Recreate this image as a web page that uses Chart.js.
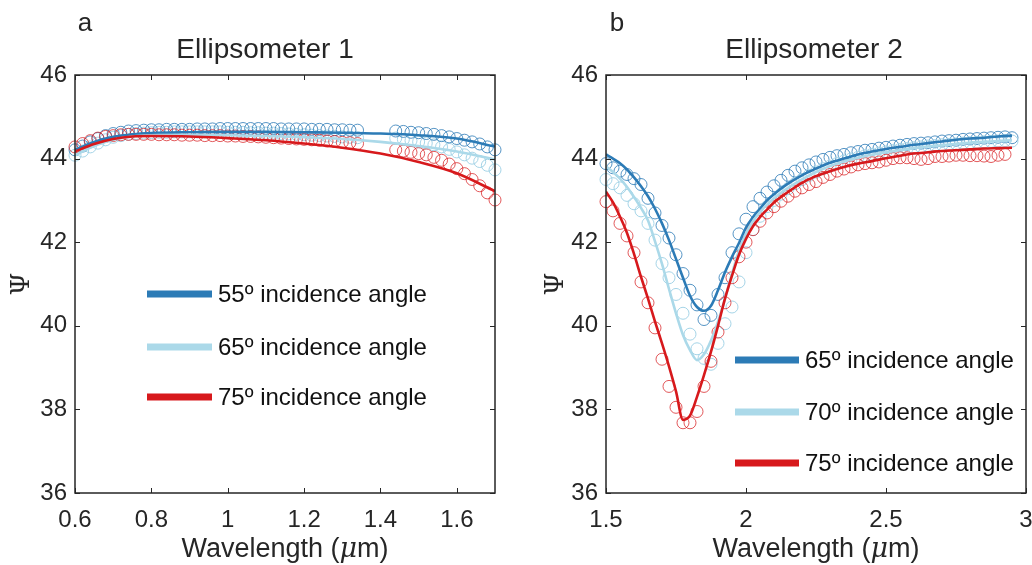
<!DOCTYPE html>
<html><head><meta charset="utf-8">
<script src="https://cdn.jsdelivr.net/npm/chart.js@4.4.1/dist/chart.umd.min.js"></script>
<style>
html,body{margin:0;padding:0;background:#fff;width:1032px;height:565px;overflow:hidden;position:relative}
canvas{position:absolute;top:0}
#ca{left:0}
#cb{left:540px}
</style></head><body>
<canvas id="ca" width="540" height="565"></canvas>
<canvas id="cb" width="520" height="565"></canvas>
<script>
// ---------- Panel a : Ellipsometer 1 ----------
const titleA = 'Ellipsometer 1';
const letterA = 'a';
const legendA = ['55º incidence angle', '65º incidence angle', '75º incidence angle'];
const xTicksA = [0.6, 0.8, 1, 1.2, 1.4, 1.6];
const wlA = [0.6,0.62,0.64,0.66,0.68,0.7,0.72,0.74,0.76,0.78,0.8,0.82,0.84,0.86,0.88,0.9,0.92,0.94,0.96,0.98,
  1,1.02,1.04,1.06,1.08,1.1,1.12,1.14,1.16,1.18,1.2,1.22,1.24,1.26,1.28,1.3,1.32,1.34,
  1.44,1.46,1.48,1.5,1.52,1.54,1.56,1.58,1.6,1.62,1.64,1.66,1.68,1.7];
const psiA55 = [44.21,44.30,44.40,44.48,44.55,44.60,44.63,44.66,44.67,44.68,
  44.69,44.69,44.70,44.70,44.70,44.70,44.71,44.71,44.71,44.72,
  44.72,44.72,44.72,44.72,44.72,44.72,44.72,44.71,44.71,44.71,
  44.71,44.70,44.70,44.70,44.69,44.69,44.68,44.68,
  44.66,44.65,44.63,44.62,44.60,44.58,44.55,44.52,44.48,44.44,44.40,44.35,44.28,44.21];
const psiA65 = [44.08,44.18,44.28,44.37,44.45,44.51,44.55,44.58,44.60,44.61,
  44.62,44.63,44.63,44.64,44.64,44.64,44.64,44.64,44.64,44.64,
  44.63,44.63,44.63,44.62,44.62,44.61,44.61,44.60,44.59,44.58,
  44.57,44.56,44.55,44.54,44.53,44.52,44.51,44.50,
  44.49,44.46,44.43,44.40,44.37,44.33,44.28,44.22,44.16,44.09,44.01,43.93,43.84,43.73];
const psiA75 = [44.28,44.36,44.43,44.49,44.53,44.55,44.57,44.58,44.58,44.58,
  44.58,44.57,44.57,44.57,44.56,44.56,44.56,44.55,44.55,44.55,
  44.54,44.54,44.53,44.53,44.52,44.51,44.50,44.49,44.48,44.47,
  44.46,44.45,44.44,44.42,44.41,44.39,44.38,44.36,
  44.21,44.18,44.15,44.12,44.09,44.03,43.96,43.87,43.76,43.64,43.50,43.35,43.18,43.01];
const wlAFit = [0.6,0.65,0.7,0.75,0.8,0.9,1,1.1,1.2,1.3,1.4,1.5,1.6,1.7];
const fitA55 = [44.21,44.40,44.52,44.58,44.61,44.63,44.64,44.64,44.63,44.62,44.60,44.56,44.48,44.29];
const fitA65 = [44.08,44.30,44.45,44.53,44.56,44.57,44.56,44.54,44.51,44.47,44.40,44.30,44.17,43.98];
const fitA75 = [44.17,44.35,44.47,44.53,44.54,44.53,44.49,44.44,44.36,44.26,44.12,43.92,43.65,43.22];

// ---------- Panel b : Ellipsometer 2 ----------
const titleB = 'Ellipsometer 2';
const letterB = 'b';
const legendB = ['65º incidence angle', '70º incidence angle', '75º incidence angle'];
const xTicksB = [1.5, 2, 2.5, 3];
const wlB = [1.5,1.525,1.55,1.575,1.6,1.625,1.65,1.675,1.7,1.725,1.75,1.775,1.8,1.825,1.85,1.875,1.9,1.925,1.95,1.975,
  2,2.025,2.05,2.075,2.1,2.125,2.15,2.175,2.2,2.225,2.25,2.275,2.3,2.325,2.35,2.375,2.4,2.425,2.45,2.475,
  2.5,2.525,2.55,2.575,2.6,2.625,2.65,2.675,2.7,2.725,2.75,2.775,2.8,2.825,2.85,2.875,2.9,2.925,2.95];
const psiB65 = [43.88,43.78,43.70,43.62,43.52,43.38,43.05,42.70,42.40,42.10,
  41.70,41.25,40.85,40.50,40.15,40.25,40.75,41.15,41.75,42.20,
  42.55,42.85,43.05,43.20,43.35,43.48,43.60,43.70,43.78,43.85,
  43.92,43.98,44.03,44.07,44.10,44.14,44.17,44.20,44.22,44.25,
  44.27,44.30,44.32,44.34,44.36,44.37,44.38,44.40,44.42,44.43,
  44.44,44.46,44.47,44.48,44.49,44.50,44.51,44.52,44.50];
const psiB70 = [43.50,43.40,43.30,43.12,42.92,42.75,42.45,42.05,41.49,41.15,
  40.75,40.30,39.80,39.45,39.22,39.08,39.58,40.05,40.45,41.05,
  41.75,42.30,42.62,42.85,43.00,43.15,43.28,43.40,43.50,43.60,
  43.68,43.76,43.82,43.88,43.94,43.99,44.03,44.07,44.10,44.13,
  44.16,44.19,44.22,44.24,44.26,44.28,44.30,44.31,44.33,44.34,
  44.35,44.37,44.38,44.39,44.40,44.41,44.42,44.43,44.42];
const psiB75 = [42.97,42.75,42.45,42.15,41.75,41.05,40.55,39.95,39.20,38.55,
  38.05,37.68,37.68,37.95,38.55,39.15,39.85,40.55,41.15,41.65,
  42.00,42.30,42.50,42.70,42.85,42.98,43.10,43.22,43.30,43.38,
  43.45,43.55,43.62,43.70,43.75,43.80,43.85,43.88,43.90,43.92,
  43.96,44.00,44.02,44.02,44.00,43.98,44.00,44.05,44.05,44.06,
  44.08,44.08,44.07,44.07,44.06,44.05,44.08,44.10];
const wlBFit = [1.5,1.525,1.55,1.575,1.6,1.625,1.65,1.675,1.7,1.725,1.75,1.775,1.8,1.825,1.85,1.875,1.9,1.925,1.95,1.975,
  2,2.025,2.05,2.075,2.1,2.15,2.2,2.25,2.3,2.35,2.4,2.45,2.5,2.55,2.6,2.65,2.7,2.75,2.8,2.85,2.9,2.95];
const fitB65 = [44.10,44.00,43.89,43.74,43.55,43.34,43.10,42.80,42.45,42.05,41.60,41.15,40.72,40.45,40.36,40.48,40.85,41.28,41.65,41.98,
  42.35,42.60,42.80,43.00,43.15,43.40,43.60,43.76,43.90,44.00,44.10,44.17,44.23,44.28,44.33,44.37,44.41,44.45,44.48,44.50,44.53,44.55];
const fitB70 = [43.81,43.68,43.52,43.32,43.08,42.82,42.52,42.02,41.48,40.88,40.30,39.78,39.42,39.18,39.32,39.65,40.10,40.65,41.25,41.80,
  42.20,42.50,42.72,42.90,43.05,43.30,43.50,43.68,43.82,43.93,44.02,44.09,44.15,44.20,44.25,44.29,44.32,44.35,44.38,44.40,44.42,44.44];
const fitB75 = [43.21,42.95,42.61,42.22,41.72,41.17,40.65,40.10,39.58,39.03,38.43,37.75,37.85,38.30,38.82,39.38,40.00,40.65,41.20,41.70,
  42.08,42.38,42.60,42.78,42.95,43.20,43.42,43.58,43.70,43.80,43.88,43.94,44.01,44.07,44.12,44.15,44.18,44.20,44.22,44.24,44.25,44.26];

// ---------- shared ----------
const yTicks = [36, 38, 40, 42, 44, 46];
const yLabel = 'Ψ';
const xLabelParts = ['Wavelength (', 'μ', 'm)'];

const C_DARK = '#2c7bb6', C_LIGHT = '#abd9e9', C_RED = '#d7191c';
const M_DARK = 'rgba(44,123,182,0.8)', M_LIGHT = 'rgba(160,210,230,0.95)', M_RED = 'rgba(215,25,28,0.72)';
const AX = '#262626';
const FONT = '"Liberation Sans", Arial, Helvetica, sans-serif';
Chart.defaults.font.family = FONT;
Chart.defaults.color = AX;

function pts(xs, ys) {
  const n = Math.min(xs.length, ys.length), out = [];
  for (let i = 0; i < n; i++) out.push({x: xs[i], y: ys[i]});
  return out;
}
function markerSet(label, xs, ys, color, order) {
  return {label, data: pts(xs, ys), showLine: false, pointStyle: 'circle', pointRadius: 6,
    pointBorderWidth: 1, pointBorderColor: color, pointBackgroundColor: 'rgba(0,0,0,0)',
    borderColor: color, order, clip: false};
}
function fitSet(label, xs, ys, color, order) {
  return {label, data: pts(xs, ys), showLine: true, pointRadius: 0, borderWidth: 2.6,
    borderColor: color, backgroundColor: color, cubicInterpolationMode: 'monotone', order, fill: false};
}

const decor = {
  id: 'decor',
  afterDraw(chart, args, o) {
    const ctx = chart.ctx, ca = chart.chartArea, xs = chart.scales.x, ys = chart.scales.y;
    ctx.save();
    // inside tick marks
    ctx.strokeStyle = AX; ctx.lineWidth = 1;
    ctx.beginPath();
    for (const t of xs.ticks) {
      const px = Math.round(xs.getPixelForValue(t.value)) + 0.5;
      ctx.moveTo(px, ca.bottom); ctx.lineTo(px, ca.bottom - 5);
      ctx.moveTo(px, ca.top); ctx.lineTo(px, ca.top + 5);
    }
    for (const t of ys.ticks) {
      const py = Math.round(ys.getPixelForValue(t.value)) + 0.5;
      ctx.moveTo(ca.left, py); ctx.lineTo(ca.left + 5, py);
      ctx.moveTo(ca.right, py); ctx.lineTo(ca.right - 5, py);
    }
    ctx.stroke();
    // box
    ctx.lineWidth = 1.5;
    ctx.strokeRect(ca.left, ca.top, ca.right - ca.left, ca.bottom - ca.top);
    ctx.fillStyle = AX;
    ctx.textBaseline = 'middle';
    // title
    ctx.textAlign = 'center';
    ctx.font = '28px ' + FONT;
    ctx.fillText(o.title, o.titleX, 50);
    // panel letter
    ctx.font = '26px ' + FONT;
    ctx.fillText(o.letter, o.letterX, 24);
    // x label with italic mu
    const f1 = '27px ' + FONT, f2 = 'italic 27px "DejaVu Serif", serif';
    ctx.font = f1; const w0 = ctx.measureText(xLabelParts[0]).width, w2 = ctx.measureText(xLabelParts[2]).width;
    ctx.font = f2; const w1 = ctx.measureText(xLabelParts[1]).width;
    let x0 = (ca.left + ca.right) / 2 - (w0 + w1 + w2) / 2;
    ctx.textAlign = 'left';
    const yl = 550;
    ctx.font = f1; ctx.fillText(xLabelParts[0], x0, yl);
    ctx.font = f2; ctx.fillText(xLabelParts[1], x0 + w0, yl);
    ctx.font = f1; ctx.fillText(xLabelParts[2], x0 + w0 + w1, yl);
    // y label
    ctx.save();
    ctx.translate(o.yLabelX, (ca.top + ca.bottom) / 2);
    ctx.rotate(-Math.PI / 2);
    ctx.textAlign = 'center';
    ctx.font = '26px "DejaVu Serif", serif';
    ctx.fillText(yLabel, 0, 0);
    ctx.restore();
    // legend
    ctx.textAlign = 'left';
    ctx.font = '24px ' + FONT;
    o.legend.forEach((lab, i) => {
      const y = o.legY[i];
      ctx.fillStyle = o.legColors[i];
      ctx.fillRect(o.legX, y - 3.5, o.legW, 7);
      ctx.fillStyle = '#111';
      ctx.fillText(lab, o.legX + o.legW + 6, y + 1);
    });
    ctx.restore();
  }
};

function makeChart(id, yAxisW, padRight, xMin, xMax, xTicks, datasets, decorOpts) {
  return new Chart(document.getElementById(id), {
    type: 'line',
    data: {datasets},
    options: {
      responsive: false, animation: false, devicePixelRatio: 1,
      layout: {padding: {top: 75, right: padRight, left: 0, bottom: 0}},
      plugins: {legend: {display: false}, tooltip: {enabled: false}, decor: decorOpts},
      scales: {
        x: {type: 'linear', min: xMin, max: xMax,
          grid: {display: false, drawTicks: false, tickLength: 0}, border: {display: false},
          afterBuildTicks: s => { s.ticks = xTicks.map(v => ({value: v})); },
          afterFit: s => { s.height = 72; },
          ticks: {font: {size: 24}, color: AX, padding: 13, maxRotation: 0, autoSkip: false,
            callback: v => String(v)}},
        y: {type: 'linear', min: 36, max: 46,
          grid: {display: false, drawTicks: false, tickLength: 0}, border: {display: false},
          afterBuildTicks: s => { s.ticks = yTicks.map(v => ({value: v})); },
          afterFit: s => { s.width = yAxisW; },
          ticks: {font: {size: 24}, color: AX, padding: 8, autoSkip: false, callback: v => String(v)}}
      }
    },
    plugins: [decor]
  });
}

makeChart('ca', 75, 45, 0.6, 1.7, xTicksA, [
  fitSet(legendA[2], wlAFit, fitA75, C_RED, 0),
  fitSet(legendA[1], wlAFit, fitA65, C_LIGHT, 1),
  fitSet(legendA[0], wlAFit, fitA55, C_DARK, 2),
  markerSet(legendA[2] + ' data', wlA, psiA75, M_RED, 3),
  markerSet(legendA[0] + ' data', wlA, psiA55, M_DARK, 4),
  markerSet(legendA[1] + ' data', wlA, psiA65, M_LIGHT, 5)
], {title: titleA, titleX: 265, letter: letterA, letterX: 85, yLabelX: 22,
    legend: legendA, legColors: [C_DARK, C_LIGHT, C_RED], legX: 147, legW: 65, legY: [294, 347, 397]});

makeChart('cb', 66, 34, 1.5, 3, xTicksB, [
  fitSet(legendB[2], wlBFit, fitB75, C_RED, 0),
  fitSet(legendB[1], wlBFit, fitB70, C_LIGHT, 1),
  fitSet(legendB[0], wlBFit, fitB65, C_DARK, 2),
  markerSet(legendB[2] + ' data', wlB, psiB75, M_RED, 3),
  markerSet(legendB[1] + ' data', wlB, psiB70, M_LIGHT, 4),
  markerSet(legendB[0] + ' data', wlB, psiB65, M_DARK, 5)
], {title: titleB, titleX: 274, letter: letterB, letterX: 77, yLabelX: 16,
    legend: legendB, legColors: [C_DARK, C_LIGHT, C_RED], legX: 195, legW: 64, legY: [360, 412, 463]});
</script>
</body></html>
